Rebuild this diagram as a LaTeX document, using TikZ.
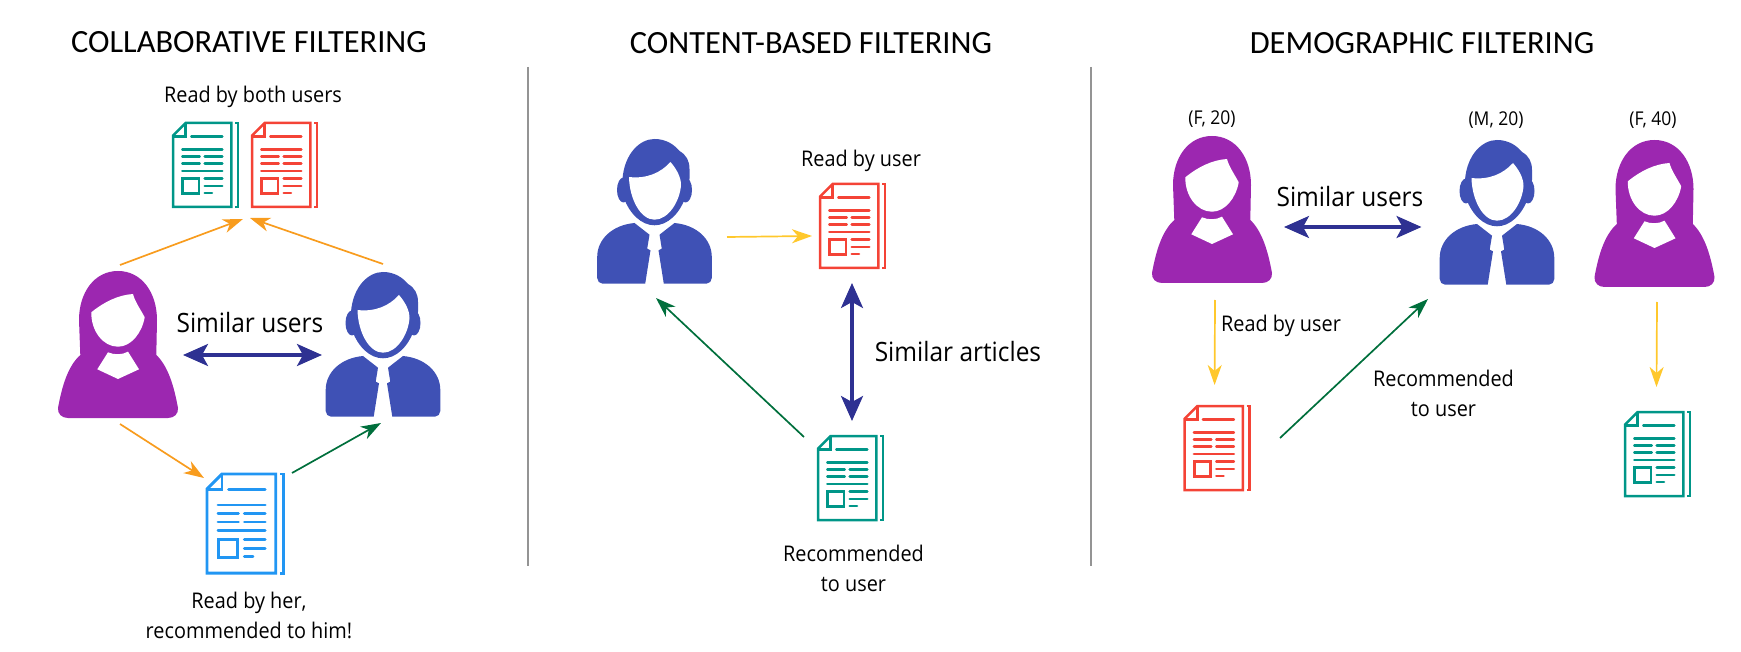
\documentclass[tikz,border=0pt]{standalone}
\usepackage{fontspec}
\usetikzlibrary{arrows.meta}
\newfontfamily\titlefont{Carlito}
\newfontfamily\labelfont[FakeStretch=0.92]{Open Sans}
\definecolor{usrpurple}{HTML}{9C27B0}
\definecolor{usrindigo}{HTML}{3F51B5}
\definecolor{docteal}{HTML}{009688}
\definecolor{docred}{HTML}{F44336}
\definecolor{docblue}{HTML}{2196F3}
\definecolor{arrnavy}{HTML}{2E3192}
\definecolor{arrorange}{HTML}{F89C1E}
\definecolor{arrgreen}{HTML}{006F3C}
\definecolor{arryellow}{HTML}{FFC82C}
\tikzset{
  titlelabel/.style={inner sep=0pt, font=\titlefont\fontsize{16.2}{18}\selectfont},
  biglabel/.style={inner sep=0pt, font=\labelfont\fontsize{13.3}{16}\selectfont},
  smalllabel/.style={inner sep=0pt, align=center, font=\labelfont\fontsize{10.8}{15}\selectfont},
  tinylabel/.style={inner sep=0pt, font=\labelfont\fontsize{9.5}{11}\selectfont},
  divider/.style={line width=1pt, color=black!42},
  bigarrow/.style={line width=1.6pt, color=arrnavy, {Stealth[length=12.5pt,width=11pt,inset=3pt]}-{Stealth[length=12.5pt,width=11pt,inset=3pt]}},
  thinarrow/.style={line width=.85pt, -{Stealth[length=10pt,width=7pt,inset=3pt]}},
  woman/.pic={
    \fill[pic actions] (0,0) .. controls (-24,0) and (-39,22) .. (-39,49) -- (-37.7,84)
      .. controls (-50,95) and (-56,115) .. (-60,137) .. controls (-60.5,143) and (-56,147) .. (-50,147)
      -- (50,147) .. controls (56,147) and (60.5,143) .. (60,137)
      .. controls (56,115) and (50,95) .. (38.3,84) -- (39,49) .. controls (39,22) and (24,0) .. (0,0) -- cycle;
    \fill[white] (-26.7,41.3) .. controls (-14,31) and (0,24) .. (15,23) .. controls (17,31) and (23,39) .. (26.7,46.3)
      .. controls (24,62) and (13,75.7) .. (0,75.7) .. controls (-15,75.7) and (-27,60) .. (-26.7,41.3) -- cycle;
    \fill[white] (-10,81.3) .. controls (-4,84) and (4,84) .. (10,80.7) -- (21,98.3) -- (0,108) -- (-20.7,98.3) -- cycle;
  },
  man/.pic={
    % Ears and head
    \fill[pic actions] (-31,51) ellipse (6.5 and 12.5);
    \fill[pic actions] (31,51) ellipse (6.5 and 12.5);
    \fill[pic actions] (-32,39.7) .. controls (-30,15) and (-15,0) .. (0,0) .. controls (12,0) and (20,6) .. (25,12)
      .. controls (32,16) and (35,22) .. (35,30) -- (35,39.7) -- (31,58)
      .. controls (25,75) and (13,86.3) .. (0,86.3) .. controls (-13,86.3) and (-25,75) .. (-31,58) -- cycle;
    \fill[white] (-25.5,38) .. controls (-8,40) and (6,34) .. (16,23) .. controls (22,30) and (26.5,38) .. (26.5,46)
      .. controls (25.5,62) and (14,80.7) .. (0,80.7) .. controls (-14,80.7) and (-25,60) .. (-25.5,38) -- cycle;
    % Jacket
    \fill[pic actions] (-20,84) -- (-5,95.7) -- (-7.3,109.7) -- (-4,111.3) -- (-9.3,144.7) -- (-52,144.7)
      .. controls (-55,144.7) and (-57.3,142) .. (-57.3,139) -- (-57.3,118) .. controls (-57.3,100) and (-42,86) .. (-20,84) -- cycle;
    \fill[pic actions] (20,84) -- (5,95.7) -- (7.3,109.7) -- (4,111.3) -- (9.3,144.7) -- (52,144.7)
      .. controls (55,144.7) and (57.3,142) .. (57.3,139) -- (57.3,118) .. controls (57.3,100) and (42,86) .. (20,84) -- cycle;
  },
  docicon/.pic={
    \draw[pic actions] (0,12.7) -- (12.7,0) -- (58.3,0) -- (58.3,84) -- (0,84) -- cycle;
    \draw[pic actions] (12.7,0) -- (12.7,13.3) -- (0,13.3);
    \draw[pic actions] (62,0) -- (65,0) -- (65,84) -- (62,84);
    \draw[pic actions] (9.7,55.7) rectangle (26,70.7);
    \draw[pic actions, line cap=round] (18.3,13.3) -- (49.3,13.3);
    \draw[pic actions, line cap=round] (9.3,26.3) -- (49.3,26.3);
    \draw[pic actions, line cap=round] (9.3,48) -- (49.3,48);
    \foreach \yy in {33.3,40.7} {
      \draw[pic actions, line cap=round] (9.3,\yy) -- (26.7,\yy);
      \draw[pic actions, line cap=round] (31.7,\yy) -- (49.3,\yy);
    }
    \draw[pic actions, line cap=round] (31.7,55.7) -- (49.3,55.7);
    \draw[pic actions, line cap=round] (31.7,63) -- (49.3,63);
    \draw[pic actions, line cap=round] (31.7,70) -- (39,70);
  }
}
\begin{document}
\begin{tikzpicture}[x=0.5pt, y=-0.5pt]
\useasboundingbox (0,0) rectangle (1741,652);
% Titles
\node[titlelabel] (titlecollab) at (249,42) {COLLABORATIVE FILTERING};
\node[titlelabel] (titlecontent) at (811,43) {CONTENT-BASED FILTERING};
\node[titlelabel] (titledemo) at (1422,43) {DEMOGRAPHIC FILTERING};
% Dividers
\coordinate (divAtop) at (527.5,67);
\coordinate (divAbot) at (527.5,566);
\coordinate (divBtop) at (1091,67);
\coordinate (divBbot) at (1091,566);
\draw[divider] (divAtop) -- (divAbot);
\draw[divider] (divBtop) -- (divBbot);

% Collaborative filtering
\node[smalllabel] (bothlabel) at (253,97) {Read by both users};
\pic[draw=docteal, line width=1.25pt] at (173,123) {docicon};
\pic[draw=docred, line width=1.25pt] at (252,123) {docicon};
\pic[fill=usrpurple] at (118,271) {woman};
\pic[fill=usrindigo] at (383,272) {man};
\pic[draw=docblue, line width=1.45pt, scale=1.18] at (207,474) {docicon};
\node[biglabel] (simcollab) at (250,323) {Similar users};
\node[smalllabel] (herlabel) at (249,615) {Read by her,\\recommended to him!};
\coordinate (womanup) at (120,265);
\coordinate (manup) at (383,264);
\coordinate (docleft) at (243,219);
\coordinate (docright) at (250,218);
\coordinate (simleft) at (183,355);
\coordinate (simright) at (322,355);
\coordinate (womandown) at (120,424);
\coordinate (bluein) at (204,478);
\coordinate (blueout) at (292,473);
\coordinate (manin) at (381,423);
\draw[thinarrow, arrorange] (womanup) -- (docleft);
\draw[thinarrow, arrorange] (manup) -- (docright);
\draw[bigarrow] (simleft) -- (simright);
\draw[thinarrow, arrorange] (womandown) -- (bluein);
\draw[thinarrow, arrgreen] (blueout) -- (manin);

% Content-based filtering
\pic[fill=usrindigo] at (654.5,139) {man};
\node[smalllabel] (readlabel) at (861,161) {Read by user};
\pic[draw=docred, line width=1.25pt] at (820,184) {docicon};
\pic[draw=docteal, line width=1.25pt] at (818,436) {docicon};
\node[biglabel] (simarticles) at (958,352) {Similar articles};
\node[smalllabel] (reclabel) at (853.5,568) {Recommended\\to user};
\coordinate (manright) at (727,237);
\coordinate (redin) at (812,236);
\coordinate (redbelow) at (852,283);
\coordinate (tealabove) at (852,421);
\coordinate (tealout) at (804,437);
\coordinate (manbelow) at (656,298);
\draw[thinarrow, arryellow] (manright) -- (redin);
\draw[bigarrow] (redbelow) -- (tealabove);
\draw[thinarrow, arrgreen] (tealout) -- (manbelow);

% Demographic filtering
\node[tinylabel] (ageA) at (1212,119) {(F, 20)};
\node[tinylabel] (ageB) at (1496,120) {(M, 20)};
\node[tinylabel] (ageC) at (1653,120) {(F, 40)};
\pic[fill=usrpurple] at (1212,136) {woman};
\pic[fill=usrindigo] at (1497,140) {man};
\pic[fill=usrpurple] at (1654.5,140) {woman};
\pic[draw=docred, line width=1.25pt] at (1184.6,406) {docicon};
\pic[draw=docteal, line width=1.25pt] at (1625,412) {docicon};
\node[biglabel] (simdemo) at (1350,197) {Similar users};
\node[smalllabel] (readdemo) at (1281,326) {Read by user};
\node[smalllabel] (recdemo) at (1443.5,393.5) {Recommended\\to user};
\coordinate (womanAdown) at (1215,300);
\coordinate (redAin) at (1214.6,385);
\coordinate (pairleft) at (1284,227);
\coordinate (pairright) at (1421.5,227);
\coordinate (redAout) at (1280,438);
\coordinate (manBin) at (1428,299);
\coordinate (womanCdown) at (1657,302);
\coordinate (tealCin) at (1656.5,387);
\draw[thinarrow, arryellow] (womanAdown) -- (redAin);
\draw[bigarrow] (pairleft) -- (pairright);
\draw[thinarrow, arrgreen] (redAout) -- (manBin);
\draw[thinarrow, arryellow] (womanCdown) -- (tealCin);
\end{tikzpicture}
\end{document}
